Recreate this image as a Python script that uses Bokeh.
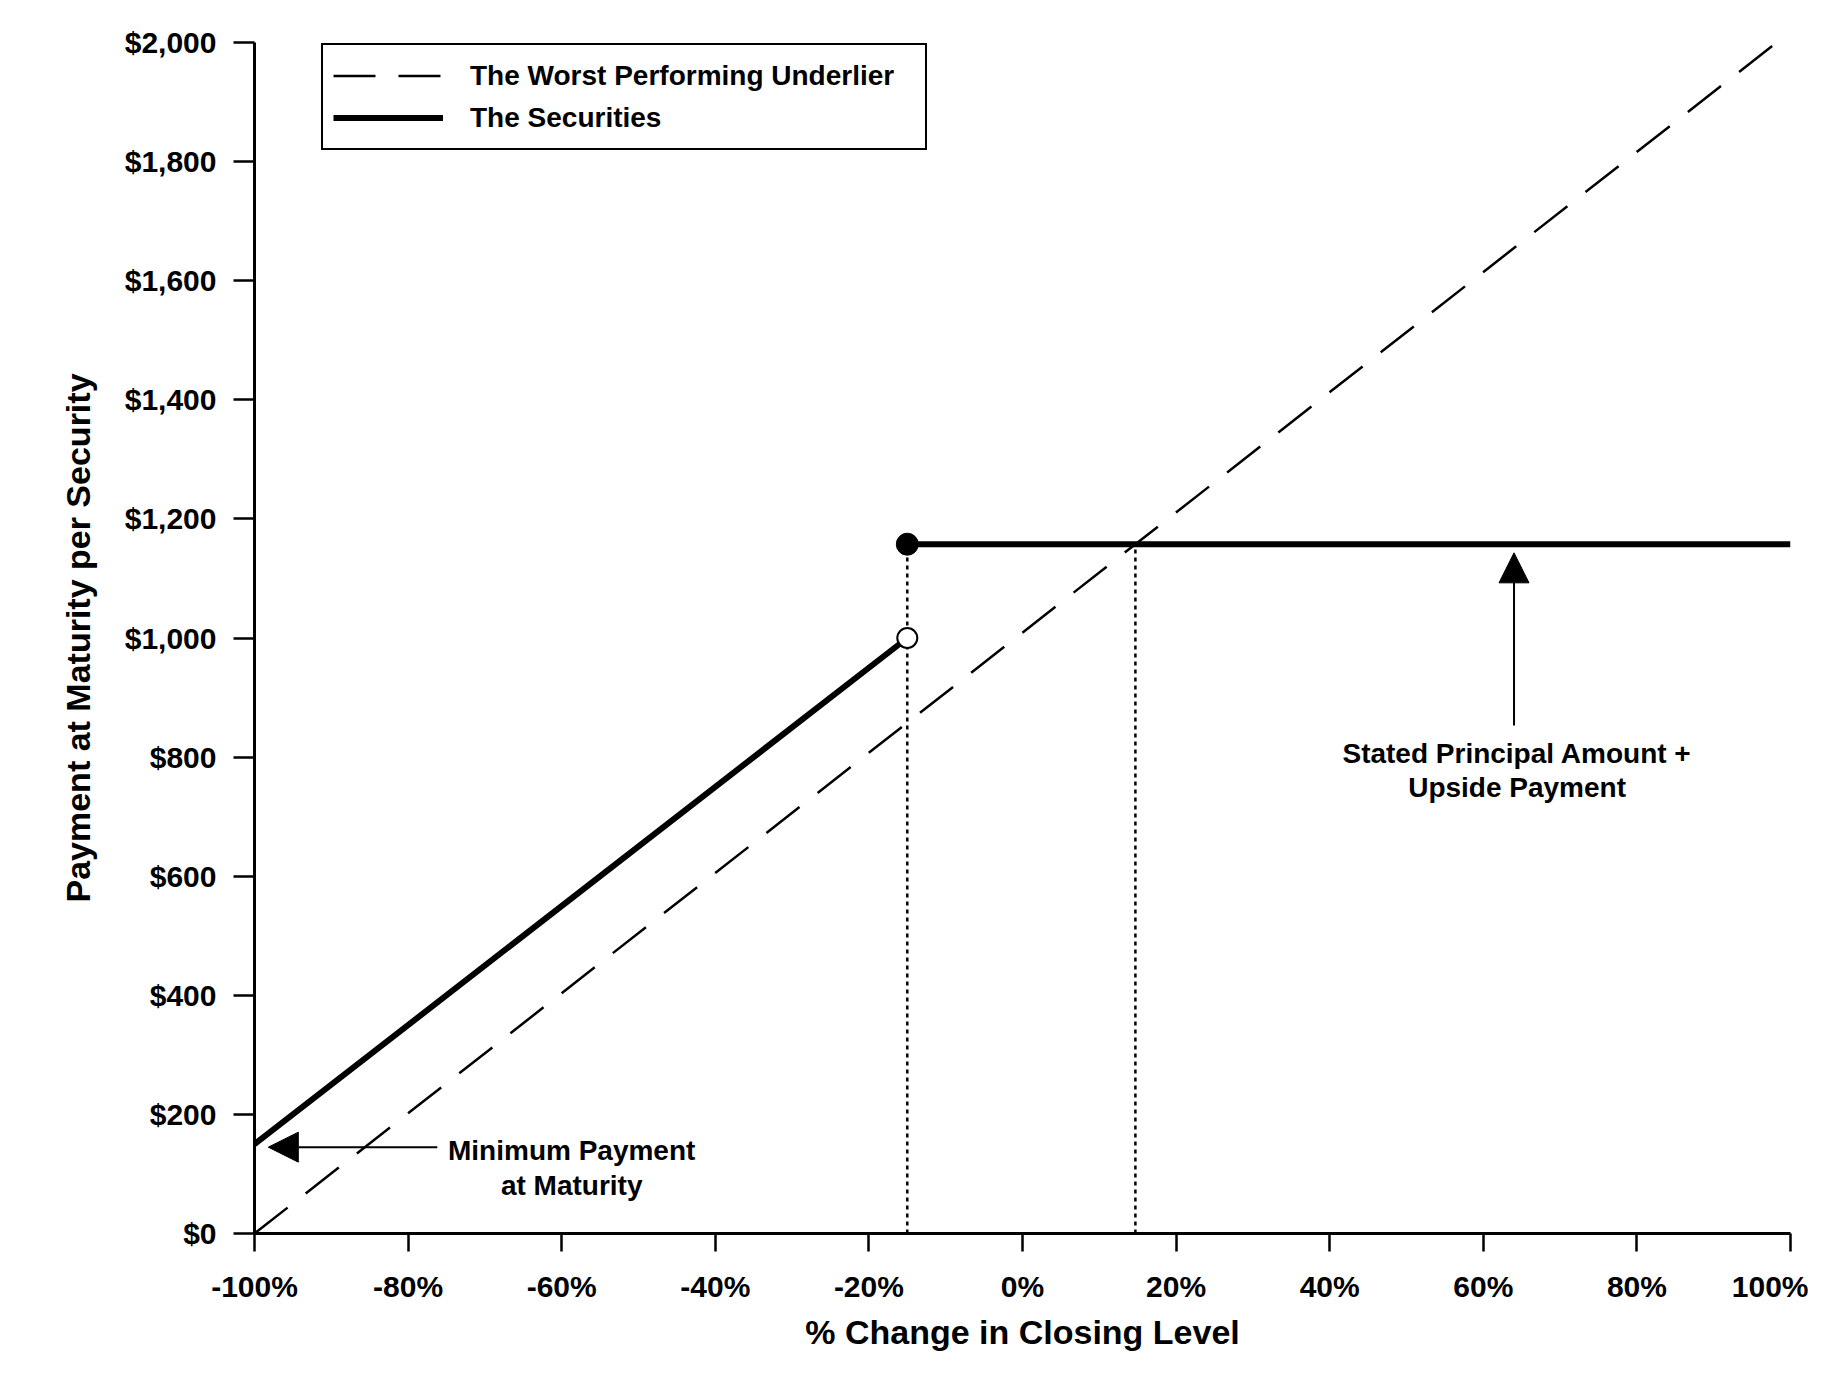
from bokeh.plotting import figure
from bokeh.models import (Range1d, FixedTicker, NumeralTickFormatter, Legend, LegendItem,
                          Label, Arrow, NormalHead)
from bokeh.embed import file_html
from bokeh.resources import INLINE

# Données
x_ticks = [-100, -80, -60, -40, -20, 0, 20, 40, 60, 80, 100]
x_tick_labels = ["-100%", "-80%", "-60%", "-40%", "-20%", "0%", "20%", "40%", "60%", "80%", "100%"]
y_ticks = [0, 200, 400, 600, 800, 1000, 1200, 1400, 1600, 1800, 2000]

underlier_x = [-100, 98.2]
underlier_y = [0, 2000]

securities_low_x = [-100, -15]
securities_low_y = [150, 1000]
securities_high_x = [-15, 100]
securities_high_y = [1157.5, 1157.5]

open_dot_x = [-15]
open_dot_y = [1000]
filled_dot_x = [-15]
filled_dot_y = [1157.5]

dotted_x = [-15, 14.7]
dotted_top = [1157.5, 1157.5]

FONT = "Liberation Sans"

p = figure(width=1808, height=1358, output_backend="svg", toolbar_location=None, tools="",
           x_range=Range1d(-100, 100), y_range=Range1d(0, 2000),
           min_border_left=254, min_border_right=18, min_border_top=42, min_border_bottom=125)

p.outline_line_color = None
p.grid.grid_line_color = None

# Axes
p.xaxis.ticker = FixedTicker(ticks=x_ticks)
p.xaxis.major_label_overrides = {t: l for t, l in zip(x_ticks, x_tick_labels)}
p.yaxis.ticker = FixedTicker(ticks=y_ticks)
p.yaxis.formatter = NumeralTickFormatter(format="$0,0")
p.axis.minor_tick_line_color = None
p.axis.axis_line_width = 3
p.axis.major_tick_line_width = 2.5
p.axis.major_tick_in = 0
p.xaxis.major_tick_out = 18
p.yaxis.major_tick_out = 21
p.axis.major_label_text_font = FONT
p.axis.major_label_text_font_style = "bold"
p.axis.major_label_text_font_size = "30px"
p.axis.major_label_text_color = "black"
p.xaxis.major_label_standoff = 18
p.yaxis.major_label_standoff = 17
p.xaxis.axis_label = "% Change in Closing Level"
p.yaxis.axis_label = "Payment at Maturity per Security"
p.axis.axis_label_text_font = FONT
p.axis.axis_label_text_font_style = "bold"
p.axis.axis_label_text_font_size = "34px"
p.axis.axis_label_text_color = "black"
p.xaxis.axis_label_standoff = 7
p.yaxis.axis_label_standoff = 25

# Lignes
r_under = p.line(underlier_x, underlier_y, line_color="black", line_width=2.5, line_dash="42 23")
p.segment(x0=dotted_x, y0=[0, 0], x1=dotted_x, y1=dotted_top,
          line_color="black", line_width=2.5, line_dash="4 4")
r_sec = p.line(securities_low_x, securities_low_y, line_color="black", line_width=6)
p.line(securities_high_x, securities_high_y, line_color="black", line_width=6)
p.scatter(open_dot_x, open_dot_y, size=20, fill_color="white", line_color="black", line_width=2)
p.scatter(filled_dot_x, filled_dot_y, size=22, fill_color="black", line_color="black")

# Flèches et annotations
p.add_layout(Arrow(end=NormalHead(size=30, fill_color="black", line_color="black"),
                   x_start=-76.2, y_start=145, x_end=-98.2, y_end=145,
                   line_color="black", line_width=2))
p.add_layout(Arrow(end=NormalHead(size=30, fill_color="black", line_color="black"),
                   x_start=64, y_start=853, x_end=64, y_end=1143,
                   line_color="black", line_width=2))

for txt, x, y in [("Minimum Payment", -58.7, 139), ("at Maturity", -58.7, 81),
                  ("Stated Principal Amount +", 64.4, 806), ("Upside Payment", 64.4, 749)]:
    p.add_layout(Label(x=x, y=y, text=txt, text_align="center", text_baseline="middle",
                       text_font=FONT, text_font_style="bold", text_font_size="28px",
                       text_color="black"))

# Légende
legend = Legend(items=[LegendItem(label="The Worst Performing Underlier", renderers=[r_under]),
                       LegendItem(label="The Securities", renderers=[r_sec])],
                location=(67, 1083), orientation="vertical",
                glyph_width=110, glyph_height=41, label_height=41, label_width=445,
                spacing=1, padding=10, label_standoff=27,
                label_text_font=FONT, label_text_font_style="bold", label_text_font_size="28px",
                label_text_color="black", border_line_color="black", border_line_width=2,
                border_line_alpha=1.0, background_fill_alpha=1.0, margin=0)
p.add_layout(legend)

open("out.html", "w").write(file_html(p, INLINE))
